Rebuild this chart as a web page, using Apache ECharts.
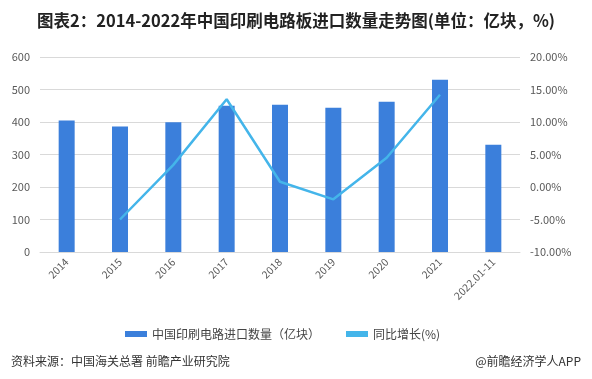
<!DOCTYPE html>
<html><head><meta charset="utf-8">
<script src="https://cdn.jsdelivr.net/npm/echarts@6/dist/echarts.min.js"></script>
<style>html,body{margin:0;padding:0;background:#fff}#c{width:592px;height:379px}</style>
</head><body><div id="c"></div>
<script>
const categories = ['2014','2015','2016','2017','2018','2019','2020','2021','2022.01-11'];
const importVolume = [405, 386, 399, 450, 453, 444, 462, 530, 330];
const growthRate = [null, -5.0, 3.4, 13.5, 0.8, -1.9, 4.5, 14.2, null];
const leftTicks = [0, 600, 100];
const rightTicks = [-10, 20, 5];
const font = '"Noto Sans CJK SC", "Microsoft YaHei", sans-serif';
const chart = echarts.init(document.getElementById('c'));
chart.setOption({
  animation: false,
  textStyle: {fontFamily: font},
  title: [
    {text: '图表2：2014-2022年中国印刷电路板进口数量走势图(单位：亿块，%)', left: 'center', top: 7,
     textStyle: {fontSize: 16.5, fontWeight: 'bold', color: '#222', fontFamily: font}},
    {text: '资料来源：中国海关总署 前瞻产业研究院', left: 6, top: 350,
     textStyle: {fontSize: 12, fontWeight: 'normal', color: '#333', fontFamily: font}},
    {text: '@前瞻经济学人APP', right: 6, top: 350,
     textStyle: {fontSize: 12, fontWeight: 'normal', color: '#333', fontFamily: font}}
  ],
  legend: {
    top: 323, left: 120, itemGap: 26, itemWidth: 22, itemHeight: 6,
    textStyle: {fontSize: 12, color: '#444'},
    data: [{name: '中国印刷电路进口数量（亿块）', icon: 'rect'}, {name: '同比增长(%)', icon: 'rect'}]
  },
  grid: {left: 40, right: 72, top: 57, bottom: 127, containLabel: false},
  xAxis: {
    type: 'category', data: categories,
    axisLine: {lineStyle: {color: '#d9d9d9'}}, axisTick: {show: false},
    axisLabel: {rotate: 45, fontSize: 10.5, color: '#595959', interval: 0, margin: 8}
  },
  yAxis: [
    {type: 'value', min: leftTicks[0], max: leftTicks[1], interval: leftTicks[2],
     axisLabel: {fontSize: 11, color: '#595959', margin: 10},
     splitLine: {lineStyle: {color: '#d9d9d9'}}, axisLine: {show: false}, axisTick: {show: false}},
    {type: 'value', min: rightTicks[0], max: rightTicks[1], interval: rightTicks[2],
     axisLabel: {fontSize: 11, color: '#595959', margin: 10, formatter: v => v.toFixed(2) + '%'},
     splitLine: {show: false}, axisLine: {show: false}, axisTick: {show: false}}
  ],
  series: [
    {name: '中国印刷电路进口数量（亿块）', type: 'bar', data: importVolume, barWidth: 16,
     itemStyle: {color: '#3b7fdb'}},
    {name: '同比增长(%)', type: 'line', yAxisIndex: 1, data: growthRate, symbol: 'none',
     lineStyle: {color: '#44b5ea', width: 2.5}, itemStyle: {color: '#44b5ea'}}
  ]
});
</script></body></html>
